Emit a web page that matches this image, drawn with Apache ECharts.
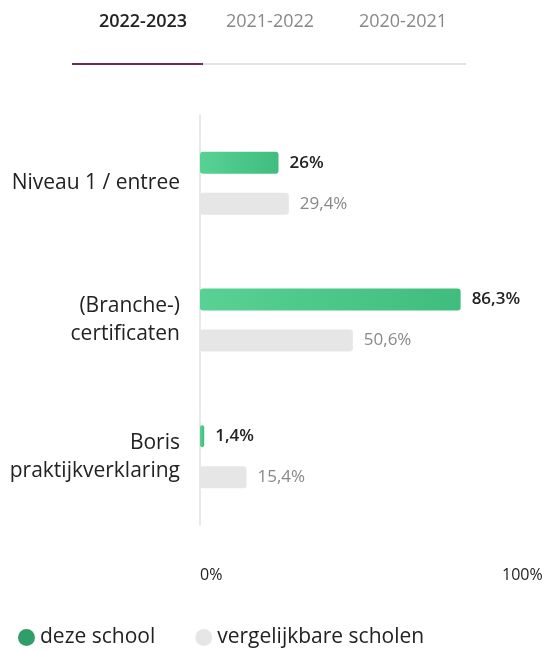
<!DOCTYPE html>
<html>
<head>
<meta charset="utf-8">
<script src="https://cdn.jsdelivr.net/npm/echarts@6/dist/echarts.min.js"></script>
<style>
  html, body { margin: 0; padding: 0; background: #fff; }
  #chart { width: 547px; height: 650px; }
</style>
</head>
<body>
<div id="chart"></div>
<script>
var tabs = ['2022-2023', '2021-2022', '2020-2021'];
var categories = ['Niveau 1 / entree', '(Branche-)\ncertificaten', 'Boris\npraktijkverklaring'];
var dezeSchool = [26, 86.3, 1.4];
var vergelijkbaar = [29.4, 50.6, 15.4];
var seriesNames = ['deze school', 'vergelijkbare scholen'];
var tickLabels = { 0: '0%', 100: '100%' };

var font = '"Open Sans", sans-serif';

function pct(v) {
  return String(v).replace('.', ',') + '%';
}

var chart = echarts.init(document.getElementById('chart'));
var option = {
  animation: false,
  textStyle: { fontFamily: font },
  title: [
    { text: tabs[0], left: 138, top: 8, textAlign: 'center',
      textStyle: { fontSize: 18, fontWeight: 600, color: '#222', fontFamily: font } },
    { text: tabs[1], left: 265, top: 8, textAlign: 'center',
      textStyle: { fontSize: 18, fontWeight: 'normal', color: '#888', fontFamily: font } },
    { text: tabs[2], left: 398, top: 8, textAlign: 'center',
      textStyle: { fontSize: 18, fontWeight: 'normal', color: '#888', fontFamily: font } }
  ],
  graphic: [
    { type: 'line', shape: { x1: 202, y1: 64, x2: 466, y2: 64 },
      style: { stroke: '#e3e3e3', lineWidth: 2 } },
    { type: 'line', shape: { x1: 72, y1: 64, x2: 203, y2: 64 },
      style: { stroke: '#6b2c5f', lineWidth: 2 } }
  ],
  legend: {
    left: 13,
    top: 622,
    icon: 'circle',
    itemWidth: 17,
    itemHeight: 17,
    itemGap: 40,
    textStyle: { fontSize: 21, color: '#222', fontFamily: font },
    data: [
      { name: seriesNames[0], itemStyle: { color: '#2f9e68' } },
      { name: seriesNames[1], itemStyle: { color: '#e6e6e6' } }
    ]
  },
  grid: { left: 200, right: 45, top: 115, height: 410 },
  xAxis: {
    type: 'value',
    min: 0,
    max: 100,
    interval: 100,
    splitLine: { show: false },
    axisLine: { show: false },
    axisTick: { show: false },
    axisLabel: {
      margin: 42,
      fontSize: 16,
      color: '#222',
      align: 'left',
      formatter: function (v) { return tickLabels[v] || ''; }
    }
  },
  yAxis: {
    type: 'category',
    inverse: true,
    data: categories,
    axisLine: { show: true, lineStyle: { color: '#e8e8e8', width: 2 } },
    axisTick: { show: false },
    axisLabel: {
      margin: 20,
      fontSize: 21,
      lineHeight: 28,
      color: '#222',
      align: 'right'
    }
  },
  series: [
    {
      name: seriesNames[0],
      type: 'bar',
      data: dezeSchool,
      barWidth: 22,
      barGap: '86%',
      itemStyle: {
        borderRadius: 3,
        color: new echarts.graphic.LinearGradient(0, 0, 1, 0, [
          { offset: 0, color: '#58d195' },
          { offset: 1, color: '#3fbd7e' }
        ])
      },
      label: {
        show: true,
        position: 'right',
        distance: 11,
        fontSize: 17,
        fontWeight: 600,
        color: '#222',
        formatter: function (p) { return pct(p.value); }
      }
    },
    {
      name: seriesNames[1],
      type: 'bar',
      data: vergelijkbaar,
      barWidth: 22,
      itemStyle: { borderRadius: 3, color: '#e6e6e6' },
      label: {
        show: true,
        position: 'right',
        distance: 11,
        fontSize: 17,
        color: '#888',
        formatter: function (p) { return pct(p.value); }
      }
    }
  ]
};
chart.setOption(option);
</script>
</body>
</html>
